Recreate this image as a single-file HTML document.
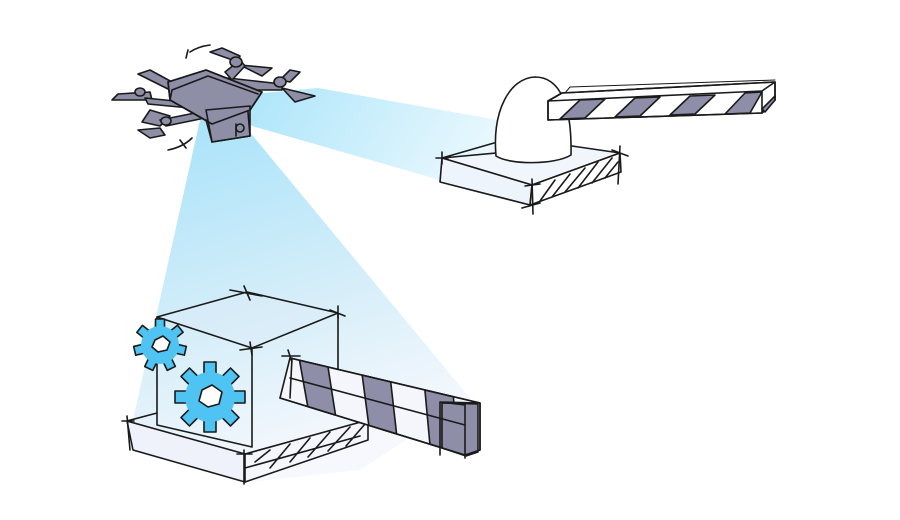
<!DOCTYPE html>
<html><head><meta charset="utf-8"><style>
html,body{margin:0;padding:0;background:#fff;}
svg{display:block}
</style></head><body>
<svg width="900" height="520" viewBox="0 0 900 520" xmlns="http://www.w3.org/2000/svg">
<defs>
<linearGradient id="b1" x1="0" y1="0" x2="1" y2="0.2">
<stop offset="0" stop-color="#a8e4fa"/><stop offset="1" stop-color="#f4fbfe"/></linearGradient>
<linearGradient id="b2" x1="0" y1="0" x2="0.3" y2="1">
<stop offset="0" stop-color="#a5e2fa"/><stop offset="0.6" stop-color="#d6eef9"/><stop offset="1" stop-color="#f6f8fd"/></linearGradient>
</defs>
<polygon points="228,96 318,88 565,132 545,196 440,180 252,126" fill="url(#b1)"/>
<polygon points="200,120 238,118 470,398 360,470 250,482 135,452 133,420" fill="url(#b2)"/>

<g fill="none" stroke="#1a1a1a" stroke-width="1.6" stroke-linecap="round" stroke-linejoin="round">
<!-- barrier top right -->
<path d="M442,158 L494,143 M572,146 L620,153 L532,185 L442,158 Z" fill="#f0f6fc"/>
<path d="M442,158 L440,182 L530,205 L532,185 Z" fill="#eef4fb"/>
<path d="M532,185 L620,153 L621,172 L530,205 Z" fill="#fff"/>
<path d="M540,201 L555,180 M552,197 L570,174 M565,192 L585,168 M578,188 L598,162 M592,183 L612,158 M605,178 L618,162"/>
<path d="M436,158 L448,158 M442,152 L442,164 M525,186 L540,184 M532,179 L533,214 M522,208 L540,203 M612,150 L628,156 M620,146 L618,184"/>
<path d="M496,156 C492,110 510,78 535,77 C560,77 572,105 571,155 C555,165 510,165 496,156 Z" fill="#fff"/>
<polygon points="548,101 562,93 775,82 775,100 762,113 548,120" fill="#fff"/>
<path d="M548,101 L762,91 L775,82 M762,91 L762,113 M548,101 L548,120 L762,113 L775,100 L775,82 L562,93 Z"/>
<path d="M560,119 L580,100 L605,99 L585,118 Z" fill="#8f8ea8"/>
<path d="M615,117 L635,98 L660,97 L640,116 Z" fill="#8f8ea8"/>
<path d="M670,115 L690,96 L715,95 L695,114 Z" fill="#8f8ea8"/>
<path d="M725,114 L745,93 L762,92 L750,113 Z" fill="#8f8ea8"/>
<path d="M762,109 L775,96 L775,100 L765,112 Z" fill="#8f8ea8"/>
<path d="M565,93 L570,87 L775,80" stroke-width="1"/>

<!-- bottom block base -->
<path d="M127,421 L157,413 M245,454 L127,421 L133,450 L245,482 L245,454 Z" fill="#f0f2fb"/>
<path d="M245,454 L368,420 L368,440 L245,482 Z" fill="#f4f6fc"/>
<path d="M255,462 L270,450 M270,468 L290,444 M290,462 L310,438 M308,457 L330,432 M328,451 L350,427 M346,446 L365,424 M245,468 L360,436"/>
<path d="M122,421 L134,421 M127,416 L130,450 M237,454 L252,454 M244,450 L244,484"/>
<!-- cube -->
<path d="M157,317 L247,292 L338,313 L252,348 Z" fill="#dcebf8" fill-opacity="0.5"/>
<path d="M157,317 L157,425 L252,447 L252,348 M338,313 L338,395" />
<path d="M230,290 L262,296 M244,286 L250,300 M330,310 L345,316 M338,306 L338,318 M240,350 L262,347 M250,342 L252,355"/>
<!-- arm -->
<path d="M290,358 L480,403 L480,450 L465,455 L280,398 Z" fill="#f4f6fc"/>
<path d="M299.5,360.25 L328,367 L335.5,415.1 L307.75,406.55 Z" fill="#8e8ea8"/>
<path d="M362.2,375.1 L390.7,381.9 L396.6,433.9 L368.8,425.4 Z" fill="#8e8ea8"/>
<path d="M424.9,390 L453.4,396.8 L457.6,452.7 L429.9,444.2 Z" fill="#8e8ea8"/>
<path d="M442,403 L478,404 L478,452 L466,456 L442,448 Z" fill="#8e8ea8"/>
<path d="M290,358 L480,403 M292,358 L290,398 M280,398 L465,455 L480,450 L480,403 L440,402 L440,455 M465,403 L465,458 M440,402 L465,405"/>
<path d="M282,356 L300,356 M288,350 L292,362 M290,378 L465,425"/>

<!-- gears -->
<g transform="translate(160,345)" fill="#4fc4f2">
<rect x="-4.5" y="-26" width="9" height="10"/>
<rect x="-4.5" y="-26" width="9" height="10" transform="rotate(51.4)"/>
<rect x="-4.5" y="-26" width="9" height="10" transform="rotate(102.8)"/>
<rect x="-4.5" y="-26" width="9" height="10" transform="rotate(154.2)"/>
<rect x="-4.5" y="-26" width="9" height="10" transform="rotate(205.6)"/>
<rect x="-4.5" y="-26" width="9" height="10" transform="rotate(257)"/>
<rect x="-4.5" y="-26" width="9" height="10" transform="rotate(308.4)"/>
<circle r="19" stroke="none"/>
<polygon points="-5,-5 3,-9 10,-3 7,5 -2,7 -8,2" fill="#fff"/>
</g>
<g transform="translate(210,397)" fill="#4fc4f2">
<rect x="-6" y="-35" width="12" height="12"/>
<rect x="-6" y="-35" width="12" height="12" transform="rotate(45)"/>
<rect x="-6" y="-35" width="12" height="12" transform="rotate(90)"/>
<rect x="-6" y="-35" width="12" height="12" transform="rotate(135)"/>
<rect x="-6" y="-35" width="12" height="12" transform="rotate(180)"/>
<rect x="-6" y="-35" width="12" height="12" transform="rotate(225)"/>
<rect x="-6" y="-35" width="12" height="12" transform="rotate(270)"/>
<rect x="-6" y="-35" width="12" height="12" transform="rotate(315)"/>
<circle r="25" stroke="none"/>
<polygon points="-8,-7 2,-12 12,-5 9,7 -2,10 -11,4" fill="#fff"/>
</g>

<!-- drone -->
<g fill="#8e8ea6">
<path d="M152,100 L112,100 L118,94 L150,92 Z"/>
<path d="M170,90 L138,74 L150,70 L172,82 Z"/>
<path d="M142,122 L150,110 L170,116 L160,126 Z"/>
<path d="M160,128 L138,130 L150,138 L165,135 Z"/>
<path d="M238,62 L210,52 L222,48 L240,56 Z"/>
<path d="M240,65 L272,68 L262,76 Z"/>
<path d="M280,80 L290,70 L300,72 L290,82 Z"/>
<path d="M282,88 L315,96 L295,102 Z"/>
<path d="M145,98 L185,102 L190,108 L148,104 Z"/>
<path d="M160,120 L200,112 L205,118 L166,126 Z"/>
<path d="M228,78 L282,84 L282,90 L238,90 Z"/>
<path d="M225,72 L240,60 L245,66 L232,80 Z"/>
<path d="M168,82 L206,70 L262,92 L250,110 L212,124 L170,100 Z"/>
<path d="M206,110 L250,106 L250,136 L212,142 Z"/>
<ellipse cx="140" cy="92" rx="5" ry="4"/>
<ellipse cx="166" cy="121" rx="5" ry="4"/>
<ellipse cx="236" cy="62" rx="6" ry="5"/>
<ellipse cx="280" cy="82" rx="6" ry="5"/>
</g>
<path d="M168,82 L206,70 L262,92 L250,110 L212,124 L170,100 Z M170,100 L172,90 L208,76 L258,94 M212,124 L250,110"/>
<path d="M206,120 L212,142 L250,136 L248,112 M236,136 L236,124"/>
<circle cx="240" cy="128" r="4"/>
<path d="M190,52 C196,48 202,46 210,45 M186,58 L188,50 M168,150 C178,148 186,144 192,138 M180,140 L186,148"/>
</g>
</svg>
</body></html>
